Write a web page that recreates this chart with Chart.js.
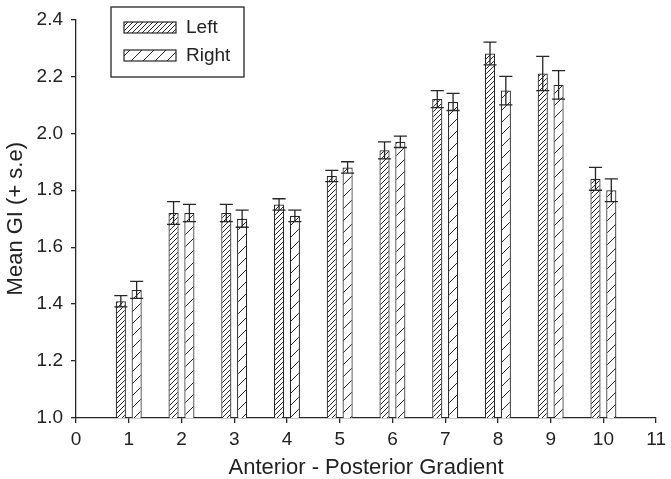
<!DOCTYPE html>
<html>
<head>
<meta charset="utf-8">
<script src="https://cdn.jsdelivr.net/npm/chart.js@4/dist/chart.umd.min.js"></script>
<style>
  html, body { margin: 0; padding: 0; background: #fff; }
  #wrap { width: 671px; height: 479px; }
</style>
</head>
<body>
<div id="wrap"><canvas id="c" width="671" height="479"></canvas></div>
<script>
const categories = [1, 2, 3, 4, 5, 6, 7, 8, 9, 10];
const leftMeans  = [1.41, 1.72, 1.72, 1.75, 1.85, 1.94, 2.12, 2.28, 2.21, 1.84];
const leftSE     = [0.02, 0.04, 0.03, 0.02, 0.02, 0.03, 0.03, 0.04, 0.06, 0.04];
const rightMeans = [1.45, 1.72, 1.70, 1.71, 1.88, 1.97, 2.11, 2.15, 2.17, 1.80];
const rightSE    = [0.03, 0.03, 0.03, 0.02, 0.02, 0.02, 0.03, 0.05, 0.05, 0.04];
const xTicks = [0, 1, 2, 3, 4, 5, 6, 7, 8, 9, 10, 11];
const yTicks = [1.0, 1.2, 1.4, 1.6, 1.8, 2.0, 2.2, 2.4];
const seriesNames = ['Left', 'Right'];

const INK = '#262626';
const FONT = "'Liberation Sans', Arial, sans-serif";

function hatch(period) {
  const c = document.createElement('canvas');
  c.width = period; c.height = period;
  const g = c.getContext('2d');
  g.fillStyle = '#fff';
  g.fillRect(0, 0, period, period);
  g.strokeStyle = INK;
  g.lineWidth = 1;
  g.beginPath();
  g.moveTo(-1, period + 1); g.lineTo(period + 1, -1);
  g.moveTo(-1, 1); g.lineTo(1, -1);
  g.moveTo(period - 1, period + 1); g.lineTo(period + 1, period - 1);
  g.stroke();
  return document.getElementById('c').getContext('2d').createPattern(c, 'repeat');
}

const denseHatch = hatch(5);
const sparseHatch = hatch(12);

const errors = [leftSE, rightSE];

const errorBarPlugin = {
  id: 'errorBars',
  afterDatasetsDraw(chart) {
    const ctx = chart.ctx;
    const y = chart.scales.y;
    ctx.save();
    ctx.strokeStyle = INK;
    ctx.lineWidth = 1.3;
    chart.data.datasets.forEach((ds, i) => {
      const meta = chart.getDatasetMeta(i);
      meta.data.forEach((bar, j) => {
        const v = ds.data[j].y;
        const e = errors[i][j];
        const yt = y.getPixelForValue(v + e);
        const yb = y.getPixelForValue(v - e);
        const half = bar.width / 2 + 1.5;
        ctx.beginPath();
        ctx.moveTo(bar.x, yt); ctx.lineTo(bar.x, yb);
        ctx.moveTo(bar.x - half, yt); ctx.lineTo(bar.x + half, yt);
        ctx.moveTo(bar.x - half, yb); ctx.lineTo(bar.x + half, yb);
        ctx.stroke();
      });
    });
    ctx.restore();
  }
};

const legendPlugin = {
  id: 'boxLegend',
  afterDraw(chart) {
    const ctx = chart.ctx;
    ctx.save();
    ctx.strokeStyle = INK;
    ctx.lineWidth = 1.3;
    ctx.strokeRect(111, 7, 133, 70);
    chart.data.datasets.forEach((ds, i) => {
      const sy = 22 + i * 28;
      ctx.fillStyle = ds.backgroundColor;
      ctx.fillRect(124, sy, 52, 11);
      ctx.lineWidth = 1.2;
      ctx.strokeRect(124, sy, 52, 11);
      ctx.fillStyle = '#222';
      ctx.font = '19px ' + FONT;
      ctx.textBaseline = 'middle';
      ctx.fillText(ds.label, 186, sy + 5.5);
    });
    ctx.restore();
  }
};

new Chart(document.getElementById('c'), {
  type: 'bar',
  data: {
    datasets: [
      {
        label: seriesNames[0],
        data: categories.map((c, i) => ({ x: c, y: leftMeans[i] })),
        backgroundColor: denseHatch,
        borderColor: INK,
        borderWidth: 1.2,
        borderSkipped: false
      },
      {
        label: seriesNames[1],
        data: categories.map((c, i) => ({ x: c, y: rightMeans[i] })),
        backgroundColor: sparseHatch,
        borderColor: INK,
        borderWidth: 1.2,
        borderSkipped: false
      }
    ]
  },
  options: {
    responsive: false,
    animation: false,
    devicePixelRatio: 1,
    categoryPercentage: 0.6,
    barPercentage: 0.64,
    layout: { padding: { top: 10, right: 13, left: 0, bottom: 0 } },
    plugins: { legend: { display: false }, tooltip: { enabled: false } },
    scales: {
      x: {
        type: 'linear',
        min: 0, max: 11,
        offset: false,
        afterBuildTicks(s) { s.ticks = xTicks.map(v => ({ value: v })); },
        afterFit(s) { s.height = 61; },
        grid: { display: true, offset: false, drawOnChartArea: false, drawTicks: true, tickLength: 5, color: INK, lineWidth: 1.3 },
        border: { display: true, color: INK, width: 1.3 },
        ticks: { color: '#222', font: { family: FONT, size: 19 }, padding: 5, maxRotation: 0, autoSkip: false },
        title: { display: true, text: 'Anterior - Posterior Gradient', color: '#222', font: { family: FONT, size: 22, lineHeight: 1 }, padding: { top: 0, bottom: 0 } }
      },
      y: {
        min: 1.0, max: 2.4,
        afterBuildTicks(s) { s.ticks = yTicks.map(v => ({ value: v })); },
        afterFit(s) { s.width = 76; },
        grid: { display: true, offset: false, drawOnChartArea: false, drawTicks: true, tickLength: 5, color: INK, lineWidth: 1.3 },
        border: { display: true, color: INK, width: 1.3 },
        ticks: { color: '#222', font: { family: FONT, size: 19 }, padding: 8, callback: v => Number(v).toFixed(1) },
        title: { display: true, text: 'Mean GI (+ s.e)', color: '#222', font: { family: FONT, size: 22 }, padding: { top: 3, bottom: 0 } }
      }
    }
  },
  plugins: [errorBarPlugin, legendPlugin]
});
</script>
</body>
</html>
